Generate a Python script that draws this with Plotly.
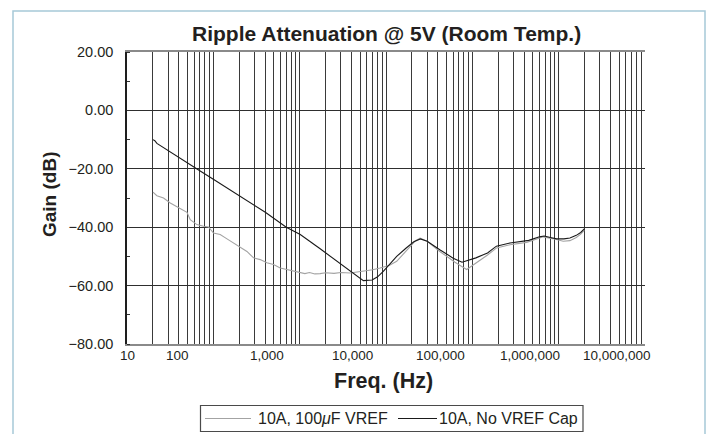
import plotly.graph_objects as go

# ---- data -------------------------------------------------------------
# 10A, no VREF capacitor (black trace)
FREQ_NOCAP = [20, 21, 22.2, 30, 50, 67.5, 100, 205, 400, 700, 1016, 1727,
              2270, 3000, 3846, 4600, 5470, 6900, 8000, 9300, 11300, 13300,
              17000, 21000, 25000, 30000, 42000, 60000, 76000, 95000, 110000,
              150000, 190000, 273000, 450000, 600000, 680000, 800000, 950000,
              1150000, 1350000, 1600000, 1800000, 1980000]
GAIN_NOCAP = [-10.0, -10.4, -11.3, -13.7, -17.9, -20.4, -23.6, -29.4, -34.9,
              -40.0, -42.5, -47.4, -50.0, -52.8, -55.1, -56.8, -58.3, -58.1,
              -57.0, -55.1, -52.5, -50.0, -47.2, -45.0, -44.0, -44.8, -47.7,
              -50.6, -52.0, -51.2, -50.5, -48.8, -46.5, -45.4, -44.5, -43.3,
              -43.0, -43.5, -44.0, -44.0, -43.7, -42.8, -41.8, -40.6]

# 10A, 100uF on VREF (grey trace)
FREQ_VREF = [20, 22.2, 26.5, 31.7, 37.9, 43.3, 49.5, 54.0, 64.6, 77.1, 88,
             100.5, 120, 144, 171, 205, 245, 292, 349, 417, 498, 595, 711,
             929, 1016, 1150, 1300, 1500, 1727, 2000, 2500, 3000, 3846, 5470,
             7000, 8550, 11000, 13300, 16000, 19000, 22000, 24800, 30000,
             42000, 63000, 86000, 112000, 150000, 191000, 273000, 426000,
             664000, 850000, 1130000, 1350000, 1600000, 1800000, 1980000]
GAIN_VREF = [-28.0, -29.2, -30.0, -31.7, -33.0, -34.0, -34.9, -37.4, -39.1,
             -39.7, -39.9, -42.0, -42.5, -44.0, -45.4, -47.1, -48.3, -50.5,
             -51.1, -52.2, -52.8, -54.0, -54.5, -55.1, -55.3, -55.9, -55.5,
             -56.0, -55.9, -55.6, -55.8, -55.5, -55.7, -55.1, -54.6, -54.0,
             -53.0, -51.7, -49.0, -46.5, -44.6, -43.7, -44.8, -48.3, -52.0,
             -54.5, -52.2, -49.5, -47.1, -46.0, -45.2, -43.3, -43.9, -44.8,
             -44.6, -43.5, -42.4, -41.1]

X_TICK_TEXT = ["10", "100", "1,000", "10,000", "100,000", "1,000,000", "10,000,000"]
X_TICK_LOGPOS = [1.0, 1.585, 2.624, 3.617, 4.635, 5.668, 6.677]
Y_TICK_VALS = [20, 0, -20, -40, -60, -80]
Y_TICK_TEXT = ["20.00", "0.00", "\u221220.00", "\u221240.00", "\u221260.00", "\u221280.00"]

# ---- layout geometry (pixels) ----------------------------------------
W, H = 709, 434
L, R, T, B = 127, 64, 52, 90
PW, PH = W - L - R, H - T - B


def px(x):
    return (x - L) / PW


def py(y):
    return (H - B - y) / PH


FONT = "Liberation Sans, Arial, Helvetica, sans-serif"
INK = "#231f20"

# vertical grid: every 1..9 x decade from 10 Hz to 10 MHz
grid_x = [m * 10 ** d for d in range(1, 7) for m in range(1, 10)] + [1e7]

fig = go.Figure()
fig.add_trace(go.Scatter(x=FREQ_VREF, y=GAIN_VREF, mode="lines",
                         name="10A, 100\u03bcF VREF", showlegend=False,
                         line=dict(color="#a3a3a3", width=1.1)))
fig.add_trace(go.Scatter(x=FREQ_NOCAP, y=GAIN_NOCAP, mode="lines",
                         name="10A, No VREF Cap", showlegend=False,
                         line=dict(color="#1a1a1a", width=1.1)))

fig.update_layout(
    width=W, height=H,
    margin=dict(l=L, r=R, t=T, b=B, pad=0),
    paper_bgcolor="white", plot_bgcolor="white",
    font=dict(family=FONT, color=INK),
    xaxis=dict(type="log", range=[1, 7], tickvals=grid_x, showticklabels=False,
               ticks="", showgrid=True, gridcolor="#3a3a3a", gridwidth=1,
               showline=True, linecolor="#8a8a8a", linewidth=2, mirror=True,
               zeroline=False),
    yaxis=dict(range=[-80, 20], tickvals=Y_TICK_VALS, ticktext=Y_TICK_TEXT,
               ticks="", ticklabelstandoff=9, tickfont=dict(size=14.5, color=INK),
               showgrid=True, gridcolor="#2e2e2e", gridwidth=1,
               showline=True, linecolor="#1e1e1e", linewidth=1.5,
               zeroline=False,
               minor=dict(dtick=10, ticks="inside", ticklen=3,
                          tickcolor="#333", showgrid=False)),
)

annotations = []
# x tick labels
for pos, txt in zip(X_TICK_LOGPOS, X_TICK_TEXT):
    annotations.append(dict(x=pos, xref="x", y=0, yref="paper", text=txt,
                            showarrow=False, xanchor="center", yanchor="top",
                            yshift=-2, font=dict(size=13.5, color=INK)))
# titles
annotations.append(dict(x=px(386.5), xref="paper", y=py(33), yref="paper",
                        text="<b>Ripple Attenuation @ 5V (Room Temp.)</b>",
                        showarrow=False, xanchor="center", yanchor="middle",
                        font=dict(size=21, color=INK)))
annotations.append(dict(x=px(383), xref="paper", y=py(381), yref="paper",
                        text="<b>Freq. (Hz)</b>", showarrow=False,
                        xanchor="center", yanchor="middle",
                        font=dict(size=21.5, color=INK)))
annotations.append(dict(x=px(50), xref="paper", y=py(194), yref="paper",
                        text="<b>Gain (dB)</b>", showarrow=False, textangle=-90,
                        xanchor="center", yanchor="middle",
                        font=dict(size=19, color=INK)))
# legend texts
annotations.append(dict(x=px(256), xref="paper", y=py(418.5), yref="paper",
                        text="10A, 100<i>\u03bc</i>F VREF", showarrow=False,
                        xanchor="left", yanchor="middle",
                        font=dict(size=16, color=INK)))
annotations.append(dict(x=px(437), xref="paper", y=py(418.5), yref="paper",
                        text="10A, No VREF Cap", showarrow=False,
                        xanchor="left", yanchor="middle",
                        font=dict(size=16, color=INK)))
fig.update_layout(annotations=annotations)

shapes = [
    # outer light-blue frame
    dict(type="rect", xref="paper", yref="paper", x0=px(13), x1=px(705),
         y0=py(445), y1=py(11), line=dict(color="#a7c9d8", width=1.5),
         layer="below"),
    # legend box
    dict(type="rect", xref="paper", yref="paper", x0=px(200.5), x1=px(583),
         y0=py(431.5), y1=py(405.5), line=dict(color="#4a4a4a", width=1.2)),
    # legend samples
    dict(type="line", xref="paper", yref="paper", x0=px(205), x1=px(251),
         y0=py(418.5), y1=py(418.5), line=dict(color="#a3a3a3", width=1.1)),
    dict(type="line", xref="paper", yref="paper", x0=px(398), x1=px(437),
         y0=py(418.5), y1=py(418.5), line=dict(color="#1a1a1a", width=1.1)),
]
fig.update_layout(shapes=shapes)

fig.write_html("out.html")
